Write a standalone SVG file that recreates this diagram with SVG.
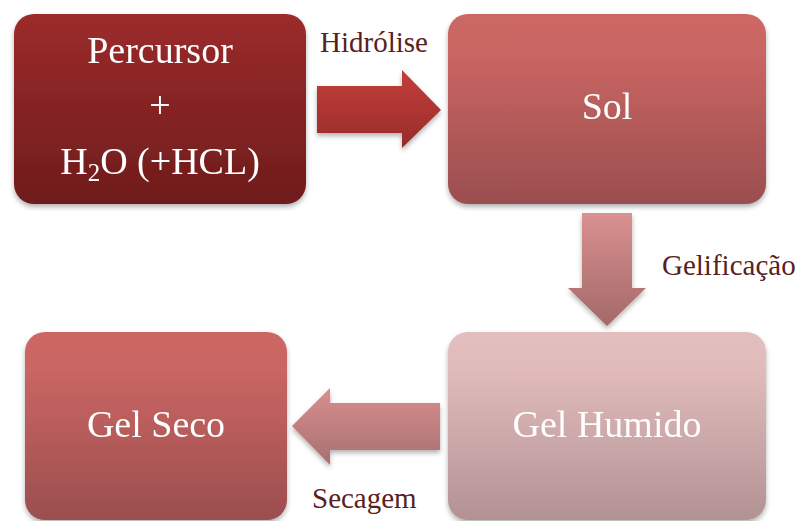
<svg xmlns="http://www.w3.org/2000/svg" width="810" height="521" viewBox="0 0 810 521">
  <style>
    .main { font-family: "Liberation Serif", "DejaVu Serif", serif; font-size: 38px; fill: #ffffff; text-anchor: middle; }
    .label { font-family: "Liberation Serif", "DejaVu Serif", serif; font-size: 29px; fill: #5a1e1e; }
  </style>
  <defs>
    <linearGradient id="gDark" x1="0" y1="0" x2="0" y2="1">
      <stop offset="0" stop-color="#9c2b2b"/>
      <stop offset="1" stop-color="#6f1c1c"/>
    </linearGradient>
    <linearGradient id="gMid" x1="0" y1="0" x2="0" y2="1">
      <stop offset="0" stop-color="#cc6764"/>
      <stop offset="0.2" stop-color="#ca6663"/>
      <stop offset="1" stop-color="#9b4e4f"/>
    </linearGradient>
    <linearGradient id="gLight" x1="0" y1="0" x2="0" y2="1">
      <stop offset="0" stop-color="#e3bebe"/>
      <stop offset="0.2" stop-color="#e1bbbb"/>
      <stop offset="1" stop-color="#b39294"/>
    </linearGradient>
    <linearGradient id="gArrowR" x1="0" y1="0" x2="0" y2="1">
      <stop offset="0" stop-color="#c33f3a"/>
      <stop offset="1" stop-color="#982b2b"/>
    </linearGradient>
    <linearGradient id="gArrowD" x1="0" y1="0" x2="0" y2="1">
      <stop offset="0" stop-color="#d99191"/>
      <stop offset="1" stop-color="#a46868"/>
    </linearGradient>
    <linearGradient id="gArrowL" x1="0" y1="0" x2="0" y2="1">
      <stop offset="0" stop-color="#d88e8e"/>
      <stop offset="1" stop-color="#a87070"/>
    </linearGradient>
    <filter id="shadow" x="-10%" y="-10%" width="120%" height="130%">
      <feDropShadow dx="0" dy="3" stdDeviation="2.5" flood-color="#000000" flood-opacity="0.3"/>
    </filter>
  </defs>

  <!-- process arrows -->
  <g id="connectors" filter="url(#shadow)">
    <polygon points="317,86 402,86 402,70 441,110 402,148 402,133 317,133" fill="url(#gArrowR)"/>
    <polygon points="582,213 632,213 632,288 646,288 607,326 568,288 582,288" fill="url(#gArrowD)"/>
    <polygon points="440,403 330,403 330,388 292,426 330,465 330,450 440,450" fill="url(#gArrowL)"/>
  </g>

  <g id="node-percursor" filter="url(#shadow)">
    <rect x="14" y="14" width="292" height="190" rx="20" fill="url(#gDark)"/>
    <text class="main" x="160" y="63">Percursor</text>
    <text class="main" x="160" y="118">+</text>
    <text class="main" x="160" y="174">H<tspan font-size="25" dy="7">2</tspan><tspan dy="-7">O (+HCL)</tspan></text>
  </g>

  <g id="node-sol" filter="url(#shadow)">
    <rect x="448" y="14" width="318" height="190" rx="20" fill="url(#gMid)"/>
    <text class="main" x="607" y="119">Sol</text>
  </g>

  <g id="node-gel-humido" filter="url(#shadow)">
    <rect x="448" y="332" width="318" height="188" rx="20" fill="url(#gLight)"/>
    <text class="main" x="607" y="437">Gel Humido</text>
  </g>

  <g id="node-gel-seco" filter="url(#shadow)">
    <rect x="25" y="332" width="262" height="188" rx="20" fill="url(#gMid)"/>
    <text class="main" x="156" y="437">Gel Seco</text>
  </g>

  <g id="labels">
    <text class="label" x="320" y="52">Hidrólise</text>
    <text class="label" x="662" y="275">Gelificação</text>
    <text class="label" x="312" y="508">Secagem</text>
  </g>
</svg>
